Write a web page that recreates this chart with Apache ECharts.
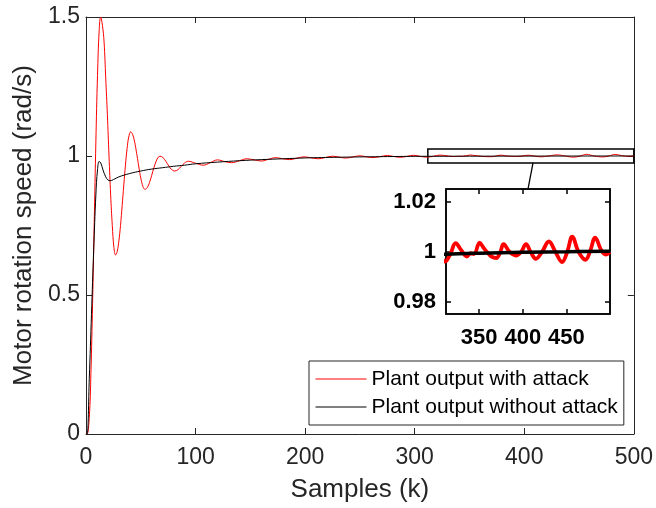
<!DOCTYPE html>
<html><head><meta charset="utf-8">
<script src="https://cdn.jsdelivr.net/npm/echarts@6/dist/echarts.min.js"></script>
<style>html,body{margin:0;padding:0;background:#fff}#c{width:656px;height:508px}</style>
</head><body><div id="c"></div>
<script>
// ---- data ----
const attackK = [0,1,3,4.5,6,7.5,9,10.5,12,13.4,15,16.5,18,19.5,21,22.5,24,25.5,27,28.5,30,31.5,33,34.5,36,37.5,39,40.8,42.5,44,45.5,47,48.5,50,52,53.8,56,58,60,62,64,66,67.5,70,72,74,76,78,81,84,87,90,93.4,100,107,113.5,120,126.5,133,140,147,153.5,160,166.5,173,179.5,186,192.5,199,205.5,212,218.5,225,231.5,237,243.5,250,256,262,268.5,275,281,287,293,299,305,311,317,323,329.5,336,340,344,350.6,355,360,364,369.6,374,378,385,392,398,403.7,409,415,422,430,437.5,445,451,456.7,464,471.9,477,483,490,495,500];
const attackSpeed = [0,0,0.06,0.22,0.47,0.76,1.05,1.29,1.45,1.5,1.47,1.41,1.28,1.15,1.0,0.86,0.75,0.67,0.644,0.657,0.694,0.75,0.821,0.896,0.967,1.027,1.068,1.087,1.078,1.058,1.027,0.991,0.954,0.921,0.89,0.88,0.887,0.905,0.931,0.958,0.981,0.996,0.999,0.995,0.986,0.974,0.962,0.952,0.946,0.951,0.963,0.975,0.981,0.974,0.967,0.976,0.986,0.980,0.976,0.983,0.990,0.986,0.982,0.988,0.994,0.990,0.987,0.992,0.997,0.9935,0.990,0.9945,0.9992,0.9957,0.9925,0.9966,1.0008,0.997,0.9943,0.9977,1.0018,0.9982,0.9953,0.9986,1.0026,0.9988,0.996,0.999,1.0033,1.0005,0.998,0.9993,0.999,1.0035,1.0015,0.9994,0.998,0.9974,0.9996,1.0029,0.9998,0.9984,0.9998,1.0029,0.9998,0.9971,0.9998,1.004,0.9998,0.9958,0.9999,1.0059,0.9998,0.9967,0.9999,1.0055,1.0005,0.9988,0.9998];
const nominalK = [0,1,3,5,7,9,10.5,12,13.5,15.5,18,20,22,25,30,40,50,60,70,80,90,100,120,140,160,180,200,230,260,290,312,350,400,450,500];
const nominalSpeed = [0,0,0.2,0.43,0.66,0.86,0.95,0.98,0.975,0.95,0.925,0.914,0.911,0.915,0.925,0.937,0.946,0.953,0.958,0.963,0.967,0.972,0.978,0.983,0.987,0.990,0.993,0.9955,0.9972,0.9985,0.9989,0.9993,0.9997,0.9999,1.0001];

const seriesNames = ['Plant output with attack','Plant output without attack'];
const xAxisTitle = 'Samples (k)';
const yAxisTitle = 'Motor rotation speed (rad/s)';
const mainXTicks = [0,100,200,300,400,500];
const mainYTicks = [0,0.5,1,1.5];
const insetXTicks = [350,400,450];
const insetYTicks = [0.98,1,1.02];
const insetXRange = [312,500];
const insetYRange = [0.975,1.025];
const connectorMainX = 408;
const connectorInsetX = 406;

// ---- build chart ----
const zip = (a,b)=>a.map((v,i)=>[v,b[i]]);
const attackData = zip(attackK, attackSpeed);
const nominalData = zip(nominalK, nominalSpeed);

const FONT = '"Liberation Sans", Arial, Helvetica, sans-serif';
const AX = '#262626';

function mainAxisBase(){
  return {
    gridIndex:0, type:'value', splitLine:{show:false},
    axisLine:{show:true, onZero:false, lineStyle:{color:AX, width:1}},
    axisTick:{show:true, inside:true, length:6, lineStyle:{color:AX, width:1}},
  };
}
function insetAxisBase(){
  return {
    gridIndex:1, type:'value', splitLine:{show:false}, z:6,
    axisLine:{show:true, onZero:false, lineStyle:{color:'#000', width:1.5}},
  };
}

const chart = echarts.init(document.getElementById('c'), null, {renderer:'canvas'});
const option = {
  animation:false,
  backgroundColor:'#fff',
  textStyle:{fontFamily:FONT},
  grid:[
    {left:86, right:20, top:17, bottom:71, show:false},
    {left:446, right:46, top:189, bottom:194, show:true, backgroundColor:'#fff', borderColor:'#000', borderWidth:1.5, z:5}
  ],
  xAxis:[
    Object.assign(mainAxisBase(), {
      position:'bottom', min:mainXTicks[0], max:mainXTicks[mainXTicks.length-1], interval:100,
      axisLabel:{show:true, fontSize:23, color:AX, margin:12, fontFamily:FONT},
      name:xAxisTitle, nameLocation:'middle', nameGap:43,
      nameTextStyle:{fontSize:26, color:AX, fontFamily:FONT}
    }),
    Object.assign(mainAxisBase(), {
      position:'top', min:mainXTicks[0], max:mainXTicks[mainXTicks.length-1], interval:100,
      axisLabel:{show:false}
    }),
    Object.assign(insetAxisBase(), {
      position:'bottom', min:insetXRange[0], max:insetXRange[1],
      axisTick:{show:true, inside:true, length:5, customValues:insetXTicks, lineStyle:{color:'#000', width:1.5}},
      axisLabel:{show:true, customValues:insetXTicks, fontSize:22, fontWeight:'bold', color:'#000', margin:13, fontFamily:FONT}
    }),
    Object.assign(insetAxisBase(), {
      position:'top', min:insetXRange[0], max:insetXRange[1],
      axisTick:{show:true, inside:true, length:5, customValues:insetXTicks, lineStyle:{color:'#000', width:1.5}},
      axisLabel:{show:false}
    })
  ],
  yAxis:[
    Object.assign(mainAxisBase(), {
      position:'left', min:mainYTicks[0], max:mainYTicks[mainYTicks.length-1], interval:0.5,
      axisLabel:{show:true, fontSize:23, color:AX, margin:6, fontFamily:FONT},
      name:yAxisTitle, nameLocation:'middle', nameGap:46,
      nameTextStyle:{fontSize:26, color:AX, fontFamily:FONT}
    }),
    Object.assign(mainAxisBase(), {
      position:'right', min:mainYTicks[0], max:mainYTicks[mainYTicks.length-1], interval:0.5,
      axisLabel:{show:false}
    }),
    Object.assign(insetAxisBase(), {
      position:'left', min:insetYRange[0], max:insetYRange[1],
      axisTick:{show:true, inside:true, length:5, customValues:insetYTicks, lineStyle:{color:'#000', width:1.5}},
      axisLabel:{show:true, customValues:insetYTicks, fontSize:22, fontWeight:'bold', color:'#000', margin:10, fontFamily:FONT,
        formatter:v=>String(+v.toFixed(2))}
    }),
    Object.assign(insetAxisBase(), {
      position:'right', min:insetYRange[0], max:insetYRange[1],
      axisTick:{show:true, inside:true, length:5, customValues:insetYTicks, lineStyle:{color:'#000', width:1.5}},
      axisLabel:{show:false}
    })
  ],
  legend:{
    data:seriesNames, orient:'vertical', left:309, top:361,
    itemWidth:51, itemHeight:14, itemGap:0,
    padding:[4,6,4,6], borderColor:AX, borderWidth:1, backgroundColor:'#fff',
    itemStyle:{opacity:0},
    lineStyle:{width:1},
    textStyle:{fontSize:21, color:'#000', lineHeight:28, fontFamily:FONT},
    z:20
  },
  series:[
    {name:seriesNames[0], type:'line', xAxisIndex:0, yAxisIndex:0, data:attackData,
      symbol:'none', smooth:0.4, lineStyle:{color:'#ff0000', width:1}, itemStyle:{color:'#ff0000'}, z:2},
    {name:seriesNames[1], type:'line', xAxisIndex:0, yAxisIndex:0, data:nominalData,
      symbol:'none', smooth:0.4, lineStyle:{color:'#000', width:1}, itemStyle:{color:'#000'}, z:3,
      markArea:{silent:true, itemStyle:{color:'rgba(0,0,0,0)', borderColor:'#000', borderWidth:1.5},
        data:[[{coord:[insetXRange[0], insetYRange[0]]},{coord:[insetXRange[1], insetYRange[1]]}]]}},
    {name:'inset-attack', type:'line', xAxisIndex:2, yAxisIndex:2, data:attackData,
      symbol:'none', smooth:0.4, clip:true, lineStyle:{color:'#ff0000', width:3.8}, z:8},
    {name:'inset-nominal', type:'line', xAxisIndex:2, yAxisIndex:2, data:nominalData,
      symbol:'none', smooth:0.4, clip:true, lineStyle:{color:'#000', width:3.5}, z:9}
  ]
};
chart.setOption(option);

const p1 = chart.convertToPixel({xAxisIndex:0, yAxisIndex:0}, [connectorMainX, insetYRange[0]]);
const p2 = chart.convertToPixel({xAxisIndex:2, yAxisIndex:2}, [connectorInsetX, insetYRange[1]]);
chart.setOption({graphic:[{type:'line', z:30, shape:{x1:p1[0], y1:p1[1], x2:p2[0], y2:p2[1]}, style:{stroke:'#000', lineWidth:1.3}}]});
</script>
</body></html>
